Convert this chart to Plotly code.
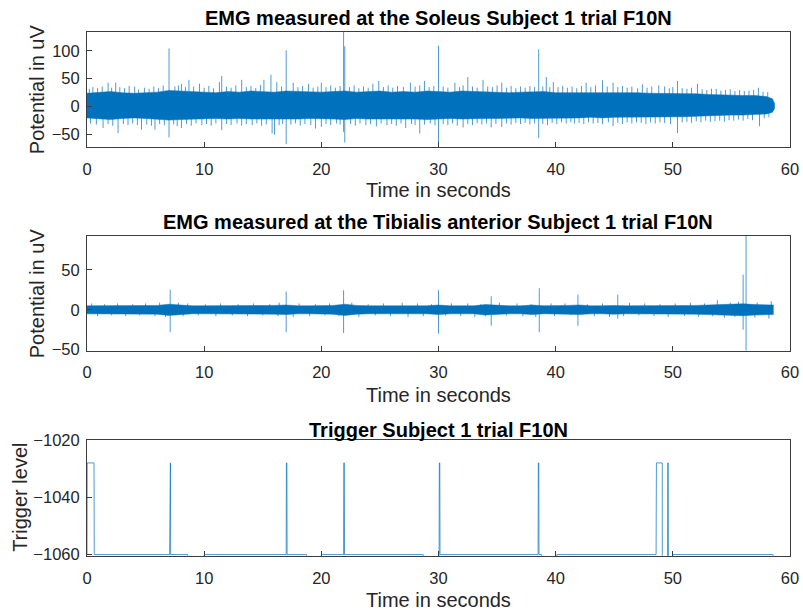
import plotly.graph_objects as go

# ---------------- data ----------------
# Soleus EMG: core band envelope (1 s steps) and thin excursions
sol_env_t = [0, 1, 2, 3, 4, 5, 6, 7, 8, 9, 10, 11, 12, 13, 14, 15, 16, 17, 18, 19,
             20, 21, 22, 23, 24, 25, 26, 27, 28, 29, 30, 31, 32, 33, 34, 35, 36, 37, 38, 39,
             40, 41, 42, 43, 44, 45, 46, 47, 48, 49, 50, 51, 52, 53, 54, 55, 56, 57, 58, 58.5, 58.7]
sol_env_up = [24, 26, 27, 25, 24, 25, 26, 29, 28, 27, 26, 25, 27, 26, 28, 27, 26, 28, 27, 26,
              26, 27, 28, 26, 27, 28, 26, 27, 26, 28, 27, 26, 28, 27, 26, 26, 25, 26, 26, 27,
              25, 25, 26, 25, 26, 25, 25, 25, 24, 24, 24, 23, 23, 22, 21, 21, 20, 20, 18, 14, 5]
sol_env_lo = [-20, -21, -23, -21, -20, -21, -22, -24, -23, -22, -21, -21, -22, -21, -22, -22, -23, -22, -22, -21,
              -21, -22, -23, -21, -22, -22, -21, -22, -22, -23, -22, -21, -22, -21, -21, -21, -20, -20, -21, -21,
              -20, -20, -20, -19, -20, -19, -19, -19, -19, -18, -19, -18, -17, -16, -16, -15, -15, -14, -13, -10, -3]
sol_hair_t = [0.2, 0.5, 0.9, 1.3, 1.8, 2.1, 2.45, 2.8, 3.2, 3.6, 4.07, 4.4, 4.9, 5.3, 5.7, 6.1, 6.5, 7.5, 7.8, 8.06,
              8.4, 8.7, 9.1, 9.6, 10.0, 10.4, 10.8, 11.3, 11.5, 11.9, 12.3, 12.7, 13.2, 13.6, 14.0, 14.4, 14.8, 15.1, 15.7, 16.2,
              16.6, 17.6, 18.0, 18.4, 18.9, 19.3, 19.7, 20.0, 20.4, 20.8, 21.2, 21.6, 22.4, 22.8, 23.2, 23.6, 24.0, 24.4, 24.9, 25.3,
              25.7, 26.1, 26.5, 27.0, 27.6, 28.0, 28.4, 28.8, 29.2, 29.6, 30.4, 30.8, 31.4, 31.8, 32.1, 32.5, 32.9, 33.3, 33.8, 34.2,
              34.6, 35.0, 35.4, 35.8, 36.2, 36.6, 37.0, 37.4, 37.8, 38.2, 38.9, 39.2, 39.5, 39.8, 40.2, 40.6, 41.0, 41.4, 41.8, 42.2,
              42.6, 43.0, 43.4, 44.0, 44.4, 44.9, 45.3, 45.7, 46.1, 46.5, 47.0, 47.4, 47.8, 48.2, 48.8, 49.3, 49.7, 50.0, 50.4, 50.8,
              51.2, 51.6, 52.1, 52.5, 52.9, 53.3, 53.7, 54.1, 54.5, 54.9, 55.3, 55.7, 56.1, 56.5, 56.9, 57.3, 57.7, 58.1]
sol_hair_v = [32, 35, 33, 36, 43, 34, 43, 35, 33, 37, 36, 31, 34, 32, 36, 33, 38, 36, 38, 41,
              35, 48, 36, 41, 34, 37, 33, 44, 55, 36, 34, 38, 48, 35, 37, 33, 39, 48, 57, 44,
              36, 43, 35, 37, 41, 34, 36, 43, 35, 38, 34, 37, 35, 38, 33, 36, 34, 41, 46, 35,
              38, 34, 37, 35, 43, 36, 38, 46, 35, 37, 36, 34, 43, 35, 38, 53, 36, 34, 48, 36,
              35, 38, 43, 34, 37, 33, 36, 34, 37, 35, 36, 53, 35, 44, 35, 37, 34, 36, 33, 37,
              43, 35, 38, 47, 36, 43, 35, 37, 34, 36, 33, 40, 34, 36, 38, 36, 33, 35, 46, 33,
              32, 34, 41, 31, 30, 32, 32, 29, 30, 31, 28, 30, 28, 29, 30, 34, 27, 26]
sol_dip_t = [0.3, 0.8, 1.37, 1.8, 2.2, 2.65, 3.1, 3.5, 3.9, 4.3, 4.65, 5.1, 5.5, 5.8, 6.2, 6.6, 7.4, 7.7, 8.06, 8.5,
             8.9, 9.3, 9.8, 10.2, 10.6, 11.0, 11.5, 11.9, 12.3, 12.8, 13.2, 13.6, 14.1, 14.5, 14.9, 15.3, 15.8, 16.0, 16.4, 16.7,
             17.4, 17.8, 18.2, 18.6, 19.1, 19.5, 20.0, 20.4, 20.8, 21.3, 21.6, 22.5, 22.9, 23.3, 23.8, 24.2, 24.7, 25.1, 25.6, 26.0,
             26.4, 26.8, 27.2, 27.7, 28.0, 28.4, 28.8, 29.3, 29.7, 30.4, 30.8, 31.2, 31.6, 32.1, 32.5, 32.9, 33.3, 33.7, 34.1, 34.5,
             34.9, 35.4, 35.8, 36.2, 36.6, 37.0, 37.4, 37.8, 38.2, 38.9, 39.3, 39.7, 40.1, 40.5, 40.9, 41.3, 41.6, 42.0, 42.4, 42.8,
             43.2, 43.6, 44.0, 44.5, 44.9, 45.3, 45.7, 46.1, 46.5, 46.9, 47.3, 47.7, 48.1, 48.5, 48.9, 49.3, 49.8, 50.4, 50.8, 51.2,
             51.6, 52.0, 52.4, 52.8, 53.2, 53.6, 54.0, 54.4, 54.8, 55.2, 55.6, 56.0, 56.4, 56.8, 57.4, 57.8, 58.2]
sol_dip_v = [-30, -32, -38, -31, -34, -47, -31, -33, -30, -33, -41, -32, -34, -41, -31, -33, -32, -35, -38, -31,
             -34, -30, -33, -31, -34, -30, -42, -31, -33, -30, -34, -31, -33, -30, -34, -32, -48, -50, -33, -31,
             -32, -30, -34, -31, -33, -39, -36, -31, -33, -30, -32, -31, -34, -30, -33, -31, -35, -30, -33, -31,
             -34, -30, -38, -31, -33, -48, -32, -30, -33, -31, -33, -30, -34, -37, -31, -33, -30, -32, -30, -37,
             -31, -36, -30, -32, -29, -31, -29, -32, -30, -31, -33, -29, -31, -28, -30, -28, -30, -29, -31, -28,
             -30, -29, -31, -28, -35, -29, -31, -28, -30, -28, -29, -31, -28, -30, -28, -29, -31, -47, -28, -27,
             -29, -26, -28, -25, -27, -26, -25, -27, -24, -25, -23, -25, -22, -24, -35, -21, -19]
sol_spike_t = [7.0, 17.0, 21.9, 22.0, 30.0, 38.55]
sol_spike_top = [104, 101, 134, 108, 109, 102.5]
sol_spike_bot = [-55, -67, -45, -64, -72, -56]

# Tibialis anterior EMG
tib_env_t = [0, 1, 2, 3, 4, 5, 6, 7, 8, 9, 10, 11, 12, 13, 14, 15, 16, 17, 18, 19,
             20, 21, 22, 23, 24, 25, 26, 27, 28, 29, 30, 31, 32, 33, 34, 35, 36, 37, 38, 39,
             40, 41, 42, 43, 44, 45, 46, 47, 48, 49, 50, 51, 52, 53, 54, 55, 56, 57, 58, 58.6]
tib_env_up = [5, 5, 5, 5, 5, 5, 5.5, 7, 6, 5, 5, 5, 5, 5, 5, 5, 5.5, 6, 5, 5,
              5, 5.5, 7, 5.5, 5, 5, 5, 5.5, 5, 5, 6, 5, 5, 5, 6.5, 5.5, 5, 5, 6, 5,
              5, 5.5, 6, 5, 5, 5.5, 5, 5, 5, 5.5, 5, 5, 5.5, 6, 6.5, 6.5, 7.5, 6.5, 6.5, 6]
tib_env_lo = [-5, -5, -5, -5, -5, -5, -5.5, -7, -6, -5, -5, -5, -5, -5, -5, -5, -5.5, -6, -5, -5,
              -5, -5.5, -7, -5.5, -5, -5, -5, -5.5, -5, -5, -6, -5, -5, -5, -6.5, -5.5, -5, -5, -6, -5,
              -5, -5.5, -6, -5, -5, -5.5, -5, -5, -5, -5.5, -5, -5, -5.5, -6, -6.5, -6.5, -7.5, -6.5, -6.5, -6]
tib_hair_t = [0.4, 1.5, 2.6, 3.9, 5.0, 6.2, 7.8, 8.6, 10.1, 11.4, 12.9, 14.2, 15.6, 16.4, 18.1, 19.5, 20.7, 22.6,
              24.0, 25.3, 26.9, 28.2, 29.4, 31.1, 32.5, 33.6, 35.2, 36.7, 37.9, 39.6, 40.8, 42.7, 44.0, 46.3,
              47.6, 48.9, 50.2, 51.5, 52.7, 53.8, 54.9, 55.6, 57.2, 58.4]
tib_hair_v = [8, 7, 8, 7, 8, 9, 9, 8, 7, 8, 7, 8, 7, 9, 8, 7, 8, 9,
              7, 8, 9, 8, 7, 8, 8, 7, 9, 8, 7, 8, 8, 7, 8, 9,
              8, 7, 8, 9, 8, 12, 9, 10, 9, 11]
tib_dip_t = [0.9, 2.1, 3.3, 4.5, 5.8, 6.7, 8.2, 9.5, 11.0, 12.4, 13.7, 15.0, 16.3, 17.6, 19.0, 20.3, 21.5, 23.2,
             24.6, 25.9, 27.4, 28.7, 30.6, 31.9, 33.1, 34.0, 35.8, 37.2, 38.3, 39.9, 41.3, 43.3, 44.6, 45.8,
             47.1, 48.4, 49.6, 51.0, 52.2, 53.4, 54.4, 55.3, 57.0, 58.2]
tib_dip_v = [-8, -7, -8, -7, -8, -9, -8, -7, -8, -7, -8, -7, -8, -9, -8, -7, -8, -9,
             -7, -8, -9, -8, -7, -8, -9, -8, -7, -8, -9, -8, -7, -8, -9, -8,
             -7, -8, -9, -8, -9, -8, -10, -9, -10, -11]
tib_spike_t = [7.1, 17.0, 21.9, 30.0, 34.5, 38.6, 41.9, 45.3, 56.0, 56.25]
tib_spike_top = [25, 23, 24.6, 24.6, 17, 27, 19, 19, 44, 100]
tib_spike_bot = [-28, -28, -29, -30, -20, -28, -20, -11, -25, -60]

# Trigger signal (step levels); values below -1060 fall just outside the axis
trig_t = [0, 0.02, 0.6, 0.62, 7.05, 7.07, 7.12, 7.14, 8.6, 8.6, 10.0, 10.0,
          17.0, 17.02, 17.06, 17.08, 18.75, 18.75, 20.0, 20.0,
          21.9, 21.92, 21.96, 21.98, 28.7, 28.7, 30.05, 30.07, 30.11, 30.13,
          38.5, 38.52, 38.56, 38.58, 38.8, 38.8, 40.1, 40.1,
          48.57, 48.6, 49.1, 49.1, 49.55, 49.57, 49.6, 49.62, 50.0, 50.0, 58.55, 58.55, 58.7]
trig_v = [-1060, -1028, -1028, -1060, -1060, -1028, -1028, -1060, -1060, -1061, -1061, -1060,
          -1060, -1028, -1028, -1060, -1060, -1061, -1061, -1060,
          -1060, -1028, -1028, -1060, -1060, -1061, -1061, -1028, -1028, -1060,
          -1060, -1028, -1028, -1060, -1060, -1061, -1061, -1060,
          -1060, -1028, -1028, -1061, -1061, -1028, -1028, -1061, -1061, -1060, -1060, -1061, -1061]

titles = ["EMG measured at the Soleus Subject 1 trial F10N",
          "EMG measured at the Tibialis anterior Subject 1 trial F10N",
          "Trigger Subject 1 trial F10N"]
xlabel = "Time in seconds"
ylabels = ["Potential in uV", "Potential in uV", "Trigger level"]
x_ticks = [0, 10, 20, 30, 40, 50, 60]
y_ticks = [[-50, 0, 50, 100], [-50, 0, 50], [-1060, -1040, -1020]]

# ---------------- figure ----------------
W, H = 803, 614
BLUE = "#0072BD"
HAIR = "rgba(0,114,189,0.7)"
FONT = "Liberation Sans, Arial, Helvetica, sans-serif"

def segs(ts, lo, hi):
    xs, ys = [], []
    for t, a, b in zip(ts, lo, hi):
        xs += [t, t, None]
        ys += [a, b, None]
    return xs, ys

fig = go.Figure()

def add_emg(axis_id, env_t, up, lo, hair_t, hair_v, dip_t, dip_v, sp_t, sp_top, sp_bot):
    xa = "x" if axis_id == 1 else f"x{axis_id}"
    ya = "y" if axis_id == 1 else f"y{axis_id}"
    fig.add_trace(go.Scatter(x=env_t, y=up, mode="lines", line=dict(width=0.5, color=BLUE),
                             xaxis=xa, yaxis=ya, showlegend=False, hoverinfo="skip"))
    fig.add_trace(go.Scatter(x=env_t, y=lo, mode="lines", line=dict(width=0.5, color=BLUE),
                             fill="tonexty", fillcolor=BLUE,
                             xaxis=xa, yaxis=ya, showlegend=False, hoverinfo="skip"))
    hx, hy = segs(hair_t, [0] * len(hair_t), hair_v)
    fig.add_trace(go.Scatter(x=hx, y=hy, mode="lines", line=dict(width=1, color=HAIR),
                             xaxis=xa, yaxis=ya, showlegend=False, hoverinfo="skip"))
    dx, dy = segs(dip_t, [0] * len(dip_t), dip_v)
    fig.add_trace(go.Scatter(x=dx, y=dy, mode="lines", line=dict(width=1, color=HAIR),
                             xaxis=xa, yaxis=ya, showlegend=False, hoverinfo="skip"))
    sx, sy = segs(sp_t, sp_bot, sp_top)
    fig.add_trace(go.Scatter(x=sx, y=sy, mode="lines", line=dict(width=1, color=HAIR),
                             xaxis=xa, yaxis=ya, showlegend=False, hoverinfo="skip"))

add_emg(1, sol_env_t, sol_env_up, sol_env_lo, sol_hair_t, sol_hair_v, sol_dip_t, sol_dip_v,
        sol_spike_t, sol_spike_top, sol_spike_bot)
add_emg(2, tib_env_t, tib_env_up, tib_env_lo, tib_hair_t, tib_hair_v, tib_dip_t, tib_dip_v,
        tib_spike_t, tib_spike_top, tib_spike_bot)
fig.add_trace(go.Scatter(x=trig_t, y=trig_v, mode="lines", line=dict(width=1, color=HAIR),
                         xaxis="x3", yaxis="y3", showlegend=False, hoverinfo="skip"))

# pixel boxes of the three axes (left, right, top, bottom)
xl, xr = 87, 790
boxes = [(31.7, 146.7), (236, 350.5), (440, 555.7)]
yranges = [[-71.5, 134], [-51, 92.5], [-1060.4, -1020]]

axis_common = dict(showline=True, linecolor="#3c3c3c", linewidth=1, mirror=True,
                   ticks="inside", ticklen=5, tickcolor="#3c3c3c", tickwidth=1,
                   showgrid=False, zeroline=False, automargin=False,
                   tickfont=dict(family=FONT, size=16.5, color="#262626"))

layout = dict(width=W, height=H, margin=dict(l=0, r=0, t=0, b=0, autoexpand=False),
              paper_bgcolor="white", plot_bgcolor="white", showlegend=False)
annotations = []
for i, (top, bot) in enumerate(boxes):
    n = "" if i == 0 else str(i + 1)
    layout[f"xaxis{n}"] = dict(axis_common, domain=[xl / W, xr / W], range=[0, 60],
                               tickvals=x_ticks, anchor=f"y{n}", ticklabelstandoff=7,
                               layer="below traces" if i == 2 else "above traces")
    layout[f"yaxis{n}"] = dict(axis_common, domain=[1 - bot / H, 1 - top / H], range=yranges[i],
                               tickvals=y_ticks[i], anchor=f"x{n}", ticklabelstandoff=3)
    title_y = [18, 222, 430][i]
    annotations.append(dict(text=f"<b>{titles[i]}</b>", x=(xl + xr) / 2 / W, y=1 - title_y / H,
                            xref="paper", yref="paper", showarrow=False, xanchor="center", yanchor="middle",
                            font=dict(family=FONT, size=20, color="#000000")))
    xlab_y = [190, 395, 600][i]
    annotations.append(dict(text=xlabel, x=(xl + xr) / 2 / W, y=1 - xlab_y / H,
                            xref="paper", yref="paper", showarrow=False, xanchor="center", yanchor="middle",
                            font=dict(family=FONT, size=20, color="#262626")))
    ylab_x = [37, 37, 20][i]
    annotations.append(dict(text=ylabels[i], x=ylab_x / W, y=1 - (top + bot) / 2 / H,
                            xref="paper", yref="paper", showarrow=False, xanchor="center", yanchor="middle",
                            textangle=-90, font=dict(family=FONT, size=20, color="#262626")))
layout["annotations"] = annotations
fig.update_layout(**layout)

fig.write_html("out.html", config={"displayModeBar": False},
               post_script="document.body.style.margin='0';document.body.style.overflow='hidden';")
